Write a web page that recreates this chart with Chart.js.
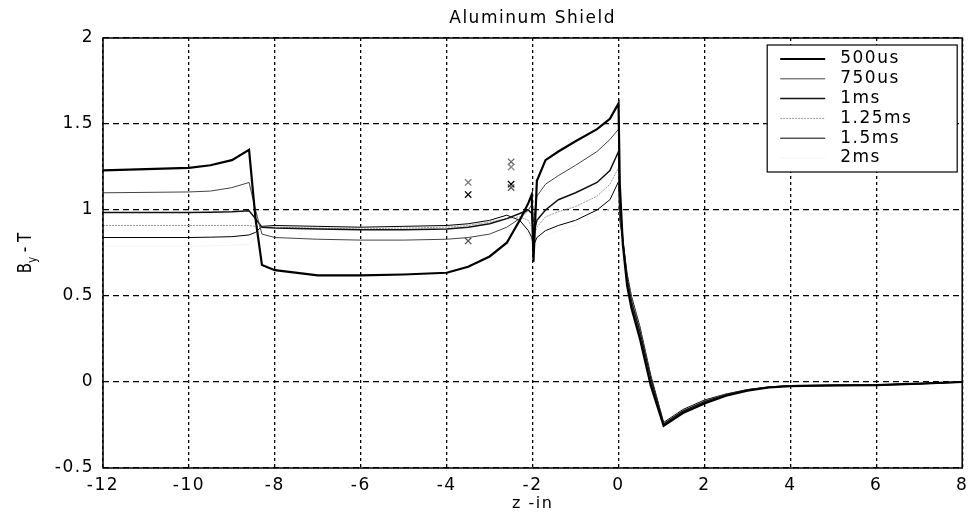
<!DOCTYPE html>
<html>
<head>
<meta charset="utf-8">
<script src="https://cdn.jsdelivr.net/npm/chart.js@4.4.0/dist/chart.umd.min.js"></script>
<style>
  html, body { margin: 0; padding: 0; background: #fff; }
  #wrap { width: 968px; height: 512px; }
</style>
</head>
<body>
<div id="wrap"><canvas id="c"></canvas></div>
<script>
// z positions (inches) shared by all six curves
const zIn = [-12, -10, -9.5, -9, -8.6, -8.45, -8.3, -8, -7, -6, -5, -4, -3.5, -3, -2.6, -2.3, -2.1, -2.02, -1.98,
             -1.9, -1.7, -1.4, -1, -0.5, -0.2, 0, 0.03, 0.1, 0.2, 0.3, 0.5, 0.75, 1.05, 1.5, 2, 2.5, 3, 3.5, 4, 5, 6, 7, 8];

const by500us = [1.23, 1.245, 1.26, 1.29, 1.35, 0.95, 0.68, 0.65, 0.62, 0.62, 0.625, 0.635, 0.67, 0.73, 0.81, 0.94, 1.04, 1.09, 0.70,
                 1.17, 1.29, 1.34, 1.40, 1.47, 1.53, 1.62, 1.15, 0.8, 0.56, 0.43, 0.25, -0.02, -0.255, -0.18, -0.125, -0.08, -0.05, -0.032, -0.024, -0.02, -0.018, -0.01, 0];
const by750us = [1.10, 1.105, 1.11, 1.13, 1.16, 1.0, 0.86, 0.84, 0.83, 0.825, 0.825, 0.83, 0.84, 0.86, 0.9, 0.95, 1.0, 1.03, 0.93,
                 1.08, 1.15, 1.20, 1.26, 1.34, 1.41, 1.47, 1.08, 0.82, 0.58, 0.45, 0.27, 0.0, -0.25, -0.175, -0.12, -0.077, -0.048, -0.03, -0.023, -0.02, -0.018, -0.01, 0];
const by1ms   = [0.985, 0.985, 0.987, 0.99, 0.995, 0.95, 0.9, 0.895, 0.89, 0.885, 0.885, 0.89, 0.9, 0.92, 0.95, 0.98, 1.0, 0.98, 0.86,
                 0.94, 1.0, 1.06, 1.1, 1.16, 1.23, 1.34, 1.02, 0.83, 0.6, 0.47, 0.29, 0.02, -0.245, -0.17, -0.115, -0.074, -0.046, -0.03, -0.022, -0.02, -0.017, -0.01, 0];
const by1p25ms = [0.91, 0.91, 0.91, 0.91, 0.91, 0.905, 0.9, 0.9, 0.895, 0.89, 0.895, 0.9, 0.91, 0.93, 0.95, 0.96, 0.94, 0.9, 0.83,
                  0.9, 0.96, 0.99, 1.02, 1.08, 1.15, 1.245, 0.98, 0.83, 0.62, 0.49, 0.31, 0.03, -0.24, -0.165, -0.11, -0.072, -0.045, -0.03, -0.022, -0.02, -0.017, -0.01, 0];
const by1p5ms = [0.84, 0.84, 0.842, 0.845, 0.855, 0.87, 0.905, 0.91, 0.905, 0.9, 0.905, 0.91, 0.92, 0.94, 0.97, 0.94, 0.88, 0.84, 0.79,
                 0.84, 0.88, 0.91, 0.94, 1.0, 1.06, 1.165, 0.94, 0.82, 0.63, 0.5, 0.32, 0.04, -0.235, -0.16, -0.105, -0.07, -0.044, -0.028, -0.021, -0.019, -0.017, -0.01, 0];
// 2ms was printed in a colour that barely shows
const by2ms   = [0.79, 0.79, 0.792, 0.795, 0.8, 0.84, 0.9, 0.905, 0.9, 0.9, 0.9, 0.905, 0.915, 0.93, 0.95, 0.92, 0.86, 0.82, 0.77,
                 0.81, 0.85, 0.88, 0.91, 0.96, 1.01, 1.1, 0.9, 0.8, 0.64, 0.51, 0.33, 0.05, -0.23, -0.155, -0.1, -0.068, -0.043, -0.027, -0.02, -0.018, -0.016, -0.01, 0];

// measured points (x marks)
const markZ = [-3.5, -3.5, -3.5, -2.5, -2.5, -2.5, -2.5];
const markB = [1.16, 1.09, 0.82, 1.28, 1.25, 1.15, 1.13];

const seriesNames = ['500us', '750us', '1ms', '1.25ms', '1.5ms', '2ms'];
const seriesVals  = [by500us, by750us, by1ms, by1p25ms, by1p5ms, by2ms];
const seriesStyle = [
  { color: '#000',    width: 2.2, dash: [] },
  { color: '#444',    width: 1,   dash: [] },
  { color: '#111',    width: 1.5, dash: [] },
  { color: '#999',    width: 1,   dash: [2, 1] },
  { color: '#000',    width: 1,   dash: [] },
  { color: '#f4f4f4', width: 1,   dash: [] }
];

const FONT = '"DejaVu Sans", "Liberation Sans", Arial, sans-serif';
const SPACING = '1.5px';

const datasets = seriesNames.map((name, i) => ({
  label: name,
  data: zIn.map((z, k) => ({ x: z, y: seriesVals[i][k] })),
  borderColor: seriesStyle[i].color,
  borderWidth: seriesStyle[i].width,
  borderDash: seriesStyle[i].dash,
  pointRadius: 0,
  tension: 0,
  fill: false
}));

datasets.push({
  label: 'measured',
  data: markZ.map((z, k) => ({ x: z, y: markB[k] })),
  showLine: false,
  pointStyle: 'crossRot',
  pointRadius: 4.5,
  pointBorderWidth: 1.3,
  pointBorderColor: ['#777', '#000', '#555', '#666', '#888', '#000', '#555'],
  borderColor: '#000'
});

/* text in the scan is stretched sideways, so widen it a little */
const wideText = {
  id: 'wideText',
  beforeDraw(chart) { chart.ctx.letterSpacing = SPACING; }
};

const decorations = {
  id: 'decorations',
  afterDraw(chart) {
    const { ctx, chartArea: a } = chart;
    ctx.save();
    // frame
    ctx.setLineDash([]);
    ctx.strokeStyle = '#000';
    ctx.lineWidth = 1.5;
    ctx.strokeRect(a.left, a.top, a.right - a.left, a.bottom - a.top);

    // title
    ctx.fillStyle = '#000';
    ctx.letterSpacing = SPACING;
    ctx.font = '17px ' + FONT;
    ctx.textAlign = 'center';
    ctx.textBaseline = 'middle';
    ctx.fillText('Aluminum Shield', (a.left + a.right) / 2, 19);

    // legend
    const w = 190, h = 127, x0 = a.right - w - 5, y0 = a.top + 7;
    ctx.fillStyle = '#fff';
    ctx.fillRect(x0, y0, w, h);
    ctx.lineWidth = 1.2;
    ctx.strokeRect(x0, y0, w, h);
    ctx.font = '17px ' + FONT;
    ctx.textAlign = 'left';
    ctx.fillStyle = '#000';
    seriesNames.forEach((name, i) => {
      const y = y0 + 14 + i * 19.8;
      const st = seriesStyle[i];
      ctx.beginPath();
      ctx.setLineDash(st.dash);
      ctx.strokeStyle = st.color;
      ctx.lineWidth = st.width;
      ctx.moveTo(x0 + 13, y);
      ctx.lineTo(x0 + 58, y);
      ctx.stroke();
      ctx.setLineDash([]);
      ctx.fillText(name, x0 + 73, y);
    });

    // y axis title: B_y - T
    ctx.letterSpacing = '0px';
    ctx.translate(24, (a.top + a.bottom) / 2);
    ctx.rotate(-Math.PI / 2);
    ctx.scale(1, 1.3);
    const big = '15px ' + FONT, small = '10px ' + FONT;
    ctx.font = big;
    const wB = ctx.measureText('B').width, wT = ctx.measureText(' - T').width;
    ctx.font = small;
    const wy = ctx.measureText('y').width;
    let x = -(wB + wy + wT) / 2;
    ctx.textBaseline = 'alphabetic';
    ctx.font = big;
    ctx.fillText('B', x, 5);
    x += wB;
    ctx.font = small;
    ctx.fillText('y', x, 9);
    x += wy;
    ctx.font = big;
    ctx.fillText(' - T', x, 5);
    ctx.restore();
  }
};

new Chart(document.getElementById('c'), {
  type: 'line',
  data: { datasets },
  options: {
    responsive: true,
    maintainAspectRatio: false,
    animation: false,
    devicePixelRatio: 1,
    layout: { padding: { top: 38, right: 3, left: 0, bottom: 0 } },
    plugins: {
      legend: { display: false },
      title: { display: false },
      tooltip: { enabled: false }
    },
    scales: {
      x: {
        type: 'linear',
        min: -12, max: 8,
        ticks: { stepSize: 2, color: '#000', padding: 7, font: { family: FONT, size: 17 }, maxRotation: 0,
                 callback: v => String(v) },
        grid: { color: '#000', lineWidth: 1.3, drawTicks: false },
        border: { display: false, dash: [3, 3] },
        title: { display: true, text: 'z -in', color: '#000', font: { family: FONT, size: 16, lineHeight: 1 },
                 padding: { top: 0, bottom: 0 } },
        afterFit(s) { s.height = 44; s.paddingLeft = 0; s.paddingRight = 0; }
      },
      y: {
        min: -0.5, max: 2,
        ticks: { stepSize: 0.5, color: '#000', padding: 9, font: { family: FONT, size: 17 },
                 callback: v => String(v) },
        grid: { color: '#000', lineWidth: 1.3, drawTicks: false },
        border: { display: false, dash: [6, 4] },
        afterFit(s) { s.width = 103; s.paddingTop = 0; s.paddingBottom = 0; }
      }
    }
  },
  plugins: [wideText, decorations]
});
</script>
</body>
</html>
